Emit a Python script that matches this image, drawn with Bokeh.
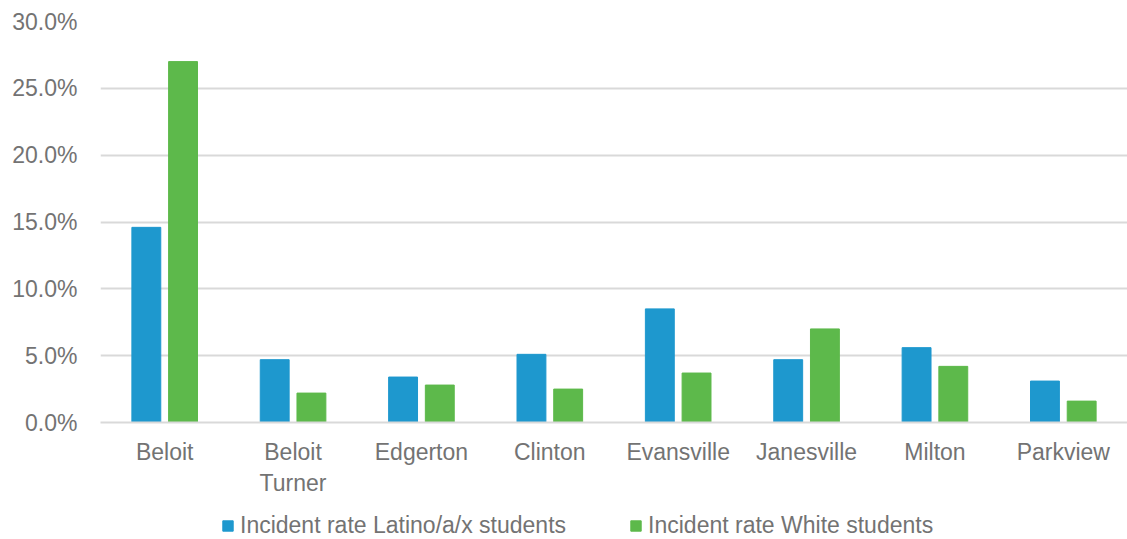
from bokeh.plotting import figure
from bokeh.layouts import column
from bokeh.models import ColumnDataSource, FactorRange, Range1d, Legend, LegendItem, PrintfTickFormatter, SingleIntervalTicker
from bokeh.transform import dodge
from bokeh.embed import file_html
from bokeh.resources import INLINE

districts = ["Beloit", "Beloit\nTurner", "Edgerton", "Clinton", "Evansville", "Janesville", "Milton", "Parkview"]
latino = [14.6, 4.7, 3.4, 5.1, 8.5, 4.7, 5.6, 3.1]
white = [27.0, 2.2, 2.8, 2.5, 3.7, 7.0, 4.2, 1.6]
series_names = ["Incident rate Latino/a/x students", "Incident rate White students"]

BLUE = "#1E98CE"
GREEN = "#5DB94B"
TXT = "#737373"
GRID = "#D9D9D9"
FONT = "Liberation Sans"
FS = "23px"

src = ColumnDataSource(dict(d=districts, latino=latino, white=white))

p = figure(x_range=FactorRange(*districts, range_padding=0), y_range=Range1d(0, 30),
           width=1127, height=505, output_backend="svg", toolbar_location=None,
           min_border_left=100, min_border_right=0, min_border_top=21, min_border_bottom=83)
p.outline_line_color = None

r1 = p.vbar(x=dodge("d", -0.143, range=p.x_range), top="latino", width=0.225, source=src,
            fill_color=BLUE, line_color=BLUE)
r2 = p.vbar(x=dodge("d", 0.143, range=p.x_range), top="white", width=0.225, source=src,
            fill_color=GREEN, line_color=GREEN)

p.yaxis.ticker = SingleIntervalTicker(interval=5)
p.yaxis.formatter = PrintfTickFormatter(format="%.1f%%")
p.yaxis.axis_line_color = None
p.yaxis.major_tick_line_color = None
p.yaxis.minor_tick_line_color = None
p.yaxis.major_tick_out = 0
p.yaxis.major_label_standoff = 19
p.yaxis.major_label_text_font = FONT
p.yaxis.major_label_text_font_size = FS
p.yaxis.major_label_text_color = TXT

p.xaxis.axis_line_color = GRID
p.xaxis.axis_line_width = 2
p.xaxis.major_tick_line_color = None
p.xaxis.minor_tick_line_color = None
p.xaxis.major_tick_out = 0
p.xaxis.major_label_standoff = 16
p.xaxis.major_label_text_font = FONT
p.xaxis.major_label_text_font_size = FS
p.xaxis.major_label_text_color = TXT

p.xgrid.grid_line_color = None
p.ygrid.grid_line_color = GRID
p.ygrid.grid_line_width = 2

# legend strip below the chart (proxy renderers lie outside the strip's range, so only the legend shows)
pl = figure(width=1127, height=34, output_backend="svg", toolbar_location=None,
            x_range=Range1d(0, 1), y_range=Range1d(0, 1),
            x_axis_location=None, y_axis_location=None,
            min_border_left=0, min_border_right=0, min_border_top=0, min_border_bottom=0)
pl.outline_line_color = None
pl.grid.grid_line_color = None
proxy = ColumnDataSource(dict(x=[-5], top=[-5]))
lr1 = pl.vbar(x="x", top="top", width=0.1, source=proxy, fill_color=BLUE, line_color=BLUE)
lr2 = pl.vbar(x="x", top="top", width=0.1, source=proxy, fill_color=GREEN, line_color=GREEN)

legend = Legend(items=[LegendItem(label=series_names[0], renderers=[lr1]),
                       LegendItem(label=series_names[1], renderers=[lr2])],
                orientation="horizontal", location=(121, 0),
                label_text_font=FONT, label_text_font_size=FS, label_text_color=TXT,
                glyph_width=13, glyph_height=13, spacing=63, label_standoff=6,
                border_line_color=None, background_fill_alpha=0, padding=0, margin=0)
pl.add_layout(legend, "center")

open("out.html", "w").write(file_html(column(p, pl), INLINE))
